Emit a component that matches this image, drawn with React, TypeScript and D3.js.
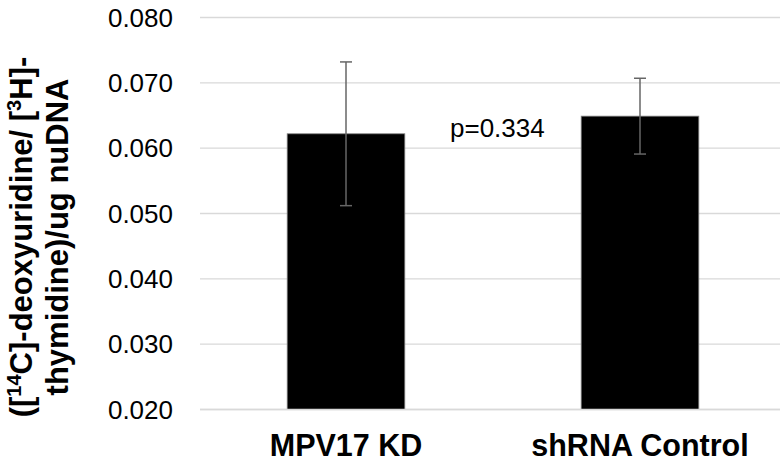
import React from "react";
import * as d3 from "d3";

const categories = ["MPV17 KD", "shRNA Control"];
const means = [0.0622, 0.0649];
const errors = [0.011, 0.0058];
const yTicks = [0.02, 0.03, 0.04, 0.05, 0.06, 0.07, 0.08];
const pLabel = "p=0.334";

const W = 780;
const H = 463;
const FONT = "'Liberation Sans', Arial, Helvetica, sans-serif";

export default function App() {
  const x = d3
    .scaleBand<string>()
    .domain(categories)
    .range([199, 787])
    .paddingInner(0.6)
    .paddingOuter(0.3);
  const y = d3.scaleLinear().domain([0.02, 0.08]).range([409.5, 17.5]);
  const fmt = d3.format(".3f");
  const bw = x.bandwidth();

  return (
    <svg
      width={W}
      height={H}
      style={{ position: "absolute", left: 0, top: 0, background: "#fff" }}
      fontFamily={FONT}
    >
      {yTicks.map((t) => (
        <g key={t}>
          <line
            x1={200}
            x2={W}
            y1={y(t)}
            y2={y(t)}
            stroke="#d9d9d9"
            strokeWidth={1.4}
          />
          <text
            x={173}
            y={y(t)}
            dy="0.35em"
            textAnchor="end"
            fontSize={26}
            fill="#000"
          >
            {fmt(t)}
          </text>
        </g>
      ))}
      {categories.map((c, i) => {
        const x0 = x(c)!;
        const cx = x0 + bw / 2;
        const top = y(means[i] + errors[i]);
        const bot = y(means[i] - errors[i]);
        return (
          <g key={c}>
            <rect
              x={x0}
              y={y(means[i])}
              width={bw}
              height={y(0.02) - y(means[i])}
              fill="#000"
              stroke="#7f7f7f"
              strokeWidth={0.8}
            />
            <line x1={cx} x2={cx} y1={top} y2={bot} stroke="#666" strokeWidth={1.5} />
            <line x1={cx - 6} x2={cx + 6} y1={top} y2={top} stroke="#666" strokeWidth={1.5} />
            <line x1={cx - 6} x2={cx + 6} y1={bot} y2={bot} stroke="#666" strokeWidth={1.5} />
            <text
              x={cx}
              y={456}
              textAnchor="middle"
              fontSize={30.5}
              fontWeight="bold"
              fill="#000"
            >
              {c}
            </text>
          </g>
        );
      })}
      <line x1={200} x2={W} y1={y(0.02)} y2={y(0.02)} stroke="#d9d9d9" strokeWidth={1.4} />
      <text x={450} y={137} fontSize={26} fill="#000">
        {pLabel}
      </text>
      <g transform="translate(0,237) rotate(-90)" fontSize={31} fontWeight="bold" fill="#000">
        <text x={0} y={32} textAnchor="middle">
          ([<tspan fontSize={20} dy={-11}>14</tspan>
          <tspan dy={11}>C]-deoxyuridine/ [</tspan>
          <tspan fontSize={20} dy={-11}>3</tspan>
          <tspan dy={11}>H]-</tspan>
        </text>
        <text x={0} y={68} textAnchor="middle">
          thymidine)/ug nuDNA
        </text>
      </g>
    </svg>
  );
}
